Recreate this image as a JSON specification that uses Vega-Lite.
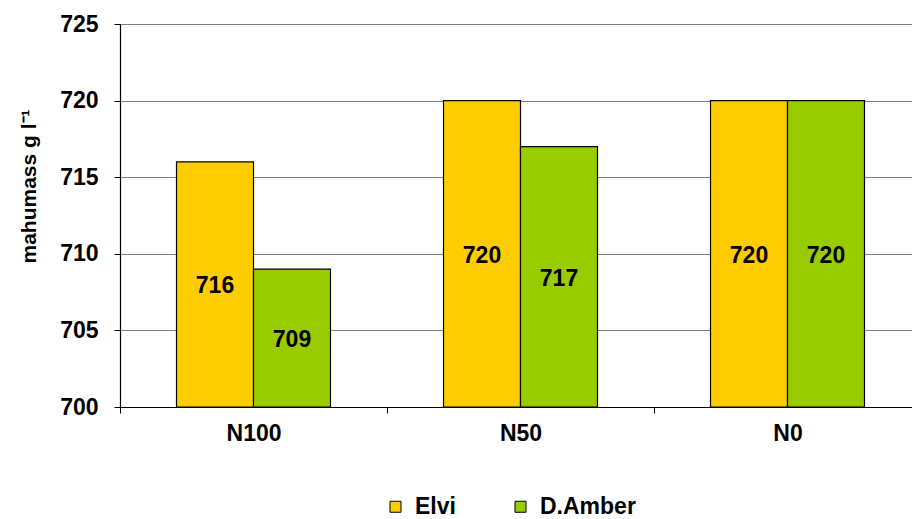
{
  "$schema": "https://vega.github.io/schema/vega-lite/v6.json",
  "width": 792,
  "height": 383,
  "autosize": {"type": "none"},
  "padding": {"left": 120, "top": 24, "right": 0, "bottom": 112},
  "background": "white",
  "config": {
    "view": {"stroke": null},
    "font": "Liberation Sans"
  },
  "data": {
    "values": [
      {"treatment": "N100", "variety": "Elvi", "value": 716},
      {"treatment": "N100", "variety": "D.Amber", "value": 709},
      {"treatment": "N50", "variety": "Elvi", "value": 720},
      {"treatment": "N50", "variety": "D.Amber", "value": 717},
      {"treatment": "N0", "variety": "Elvi", "value": 720},
      {"treatment": "N0", "variety": "D.Amber", "value": 720}
    ]
  },
  "encoding": {
    "x": {
      "field": "treatment", "type": "nominal", "sort": ["N100", "N50", "N0"],
      "scale": {"paddingInner": 0, "paddingOuter": 0, "range": [0, 801]},
      "axis": {
        "title": null, "labelAngle": 0, "labelFont": "Liberation Sans", "labelFontWeight": "bold",
        "labelFontSize": 23, "labelColor": "black", "labelPadding": 9,
        "tickBand": "extent", "tickColor": "black", "tickSize": 6, "domainColor": "black", "domainWidth": 1.2
      }
    },
    "xOffset": {
      "field": "variety", "type": "nominal", "sort": ["Elvi", "D.Amber"],
      "scale": {"paddingOuter": 0.734, "paddingInner": 0}
    }
  },
  "layer": [
    {
      "mark": {"type": "bar", "stroke": "black", "strokeWidth": 1.2},
      "encoding": {
        "y": {
          "field": "value", "type": "quantitative",
          "scale": {"domain": [700, 725], "zero": false, "nice": false},
          "axis": {
            "title": "mahumass g l⁻¹", "titleFont": "Liberation Sans", "titleFontWeight": "bold",
            "titleFontSize": 21, "titleColor": "black", "titlePadding": 20, "titleY": 162,
            "values": [700, 705, 710, 715, 720, 725],
            "labelFont": "Liberation Sans", "labelFontWeight": "bold", "labelFontSize": 23,
            "labelColor": "black", "labelPadding": 16,
            "grid": true, "gridColor": "#808080", "gridWidth": 1,
            "tickColor": "black", "tickSize": 6, "domainColor": "black", "domainWidth": 1.2
          }
        },
        "y2": {"datum": 700},
        "color": {
          "field": "variety", "type": "nominal", "sort": ["Elvi", "D.Amber"],
          "scale": {"domain": ["Elvi", "D.Amber"], "range": ["#FFCC00", "#99CC00"]},
          "legend": {
            "title": null, "orient": "none", "direction": "horizontal",
            "legendX": 264, "legendY": 471,
            "symbolType": "square", "symbolSize": 121, "symbolStrokeColor": "black", "symbolStrokeWidth": 1,
            "symbolOpacity": 1,
            "labelFont": "Liberation Sans", "labelFontWeight": "bold", "labelFontSize": 23, "labelColor": "black",
            "labelOffset": 8, "columnPadding": 53
          }
        }
      }
    },
    {
      "transform": [{"calculate": "(datum.value + 700) / 2", "as": "labelPos"}],
      "mark": {"type": "text", "fontSize": 23, "fontWeight": "bold", "font": "Liberation Sans", "color": "black", "baseline": "middle", "align": "center", "dy": 2},
      "encoding": {
        "y": {"field": "labelPos", "type": "quantitative"},
        "text": {"field": "value", "type": "quantitative"}
      }
    }
  ]
}
